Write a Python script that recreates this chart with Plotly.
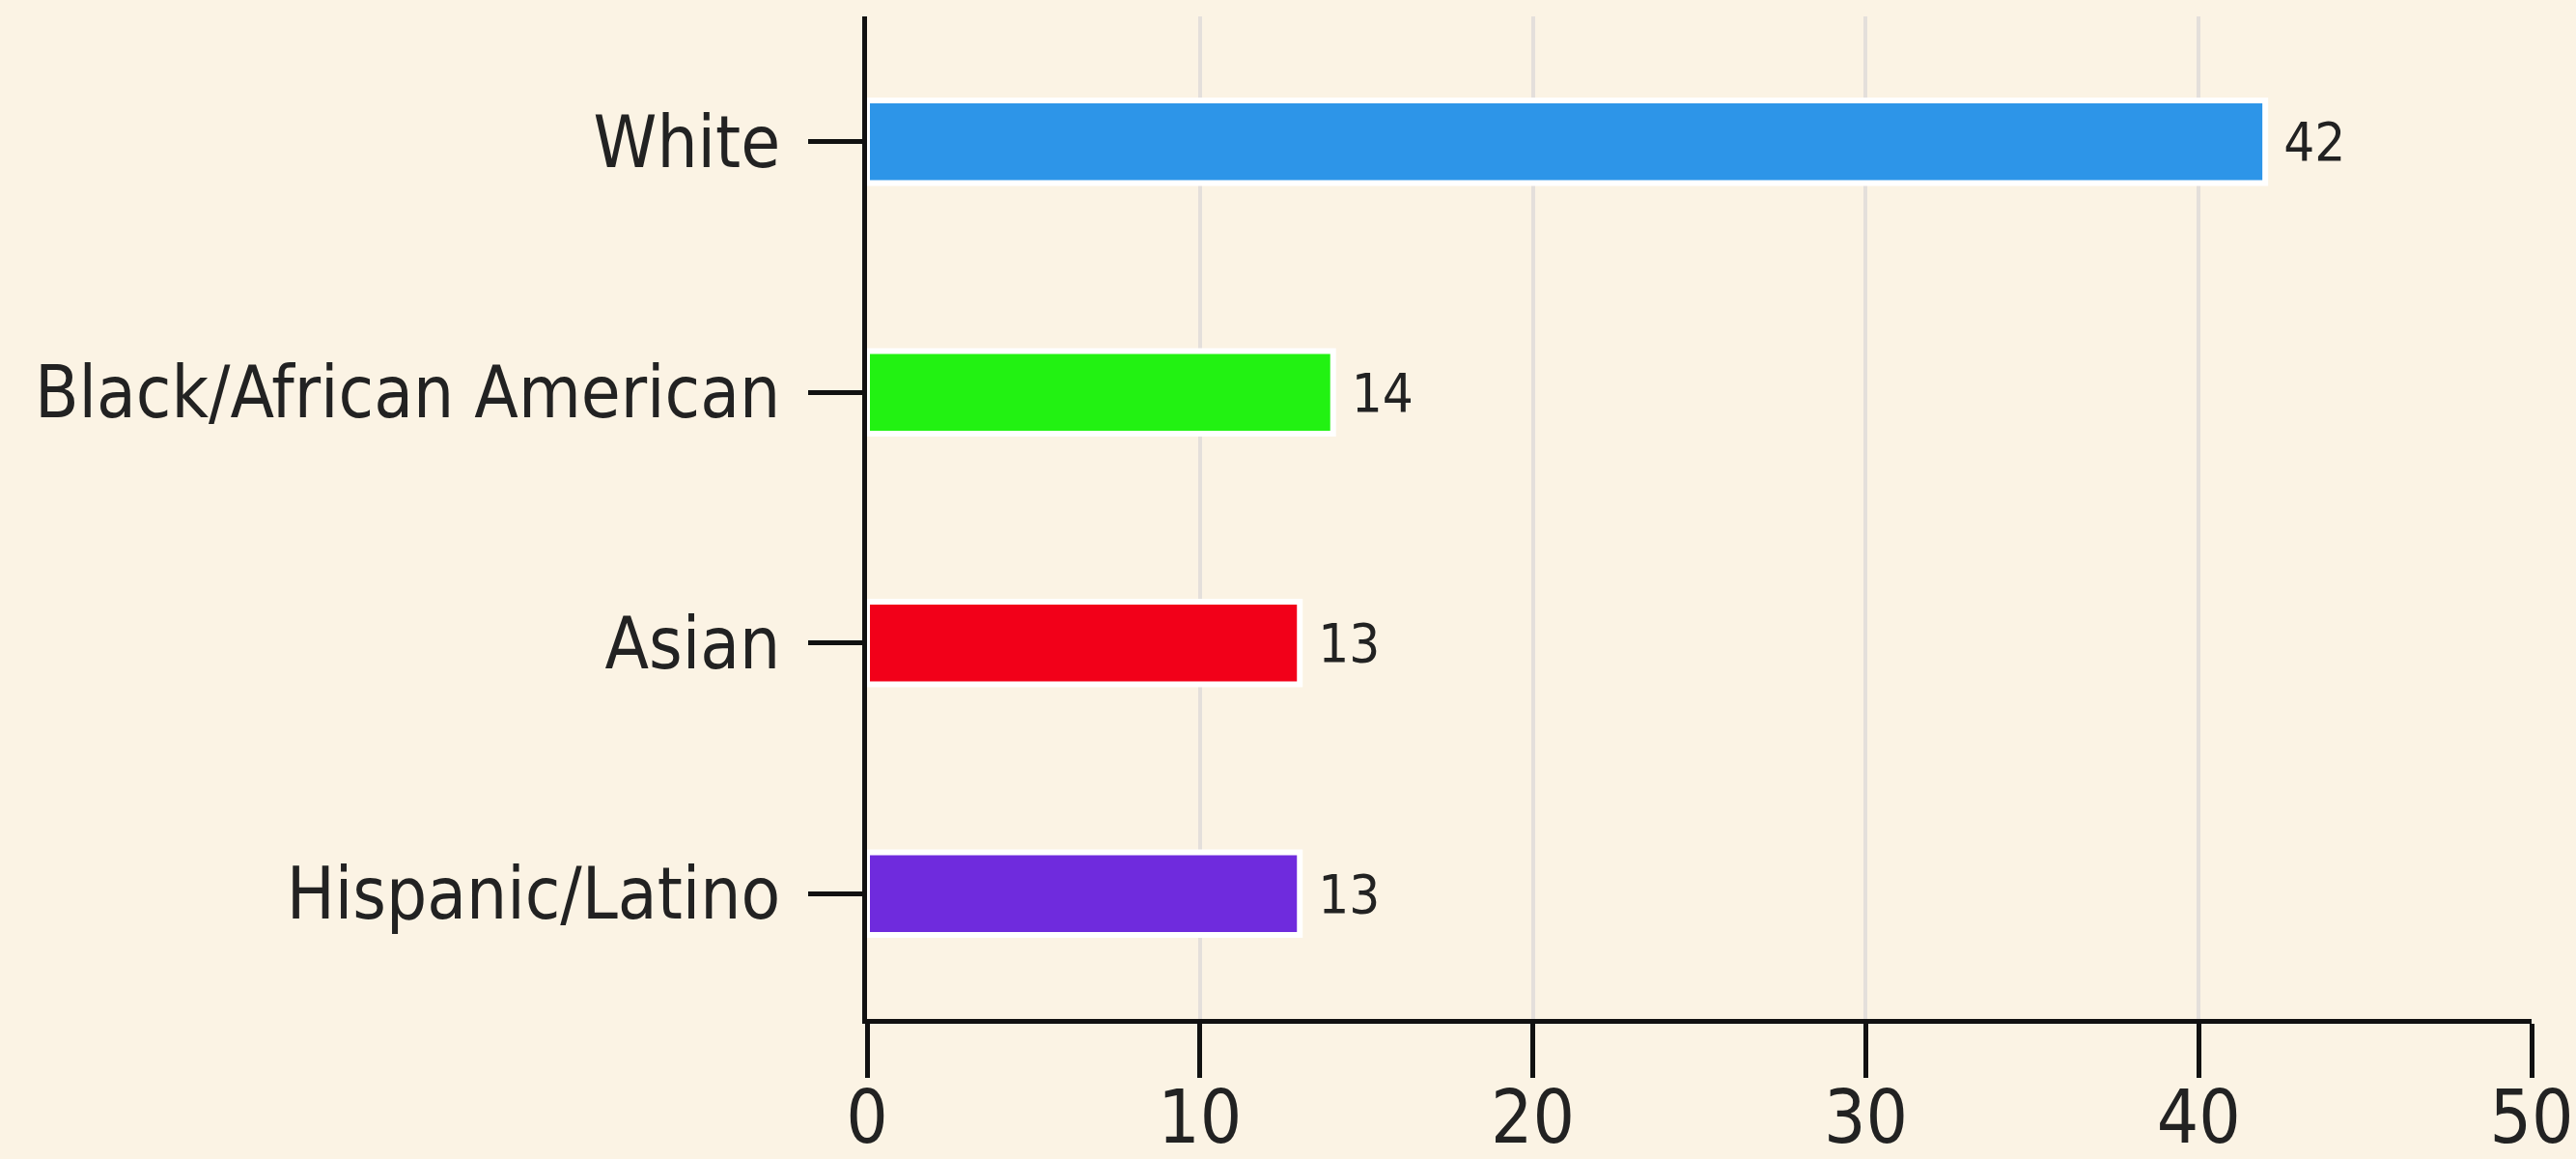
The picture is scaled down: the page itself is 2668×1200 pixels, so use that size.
import plotly.graph_objects as go

categories = ["White", "Black/African American", "Asian", "Hispanic/Latino"]
values = [42, 14, 13, 13]
colors = ["#2d95e8", "#22f212", "#f20019", "#6f2bdd"]
x_ticks = [0, 10, 20, 30, 40, 50]

FONT = "Liberation Sans Narrow, DejaVu Sans Condensed, Roboto, sans-serif"

fig = go.Figure(
    go.Bar(
        x=values,
        y=categories,
        orientation="h",
        marker=dict(color=colors, line=dict(color="#ffffff", width=6)),
        width=0.33,
        text=[str(v) for v in values],
        texttemplate=" %{text}",
        textposition="outside",
        textfont=dict(family=FONT, size=56, color="#222222"),
        cliponaxis=False,
    )
)

fig.update_layout(
    width=2668,
    height=1200,
    paper_bgcolor="#fbf3e4",
    plot_bgcolor="#fbf3e4",
    margin=dict(l=898, r=46, t=17, b=145),
    showlegend=False,
    font=dict(family=FONT, color="#222222"),
)

fig.update_xaxes(
    range=[0, 50],
    tickvals=x_ticks,
    ticks="outside",
    ticklen=56,
    tickwidth=5,
    tickcolor="#111111",
    showline=True,
    linecolor="#111111",
    linewidth=5,
    showgrid=True,
    gridcolor="#e4dfdb",
    gridwidth=4,
    zeroline=False,
    automargin=False,
    ticklabeloverflow="allow",
    ticklabelstandoff=-24,
    tickfont=dict(family=FONT, size=76, color="#222222"),
)

fig.update_yaxes(
    categoryorder="array",
    categoryarray=categories[::-1],
    range=[-0.5, 3.5],
    ticks="outside",
    ticklen=56,
    tickwidth=5,
    tickcolor="#111111",
    showline=True,
    linecolor="#111111",
    linewidth=5,
    showgrid=False,
    zeroline=False,
    automargin=False,
    ticklabelstandoff=14,
    tickfont=dict(family=FONT, size=74, color="#222222"),
)

fig.write_html(
    "out.html",
    config={"displayModeBar": False},
    post_script="document.body.style.margin='0';document.body.style.background='#fbf3e4';",
)
